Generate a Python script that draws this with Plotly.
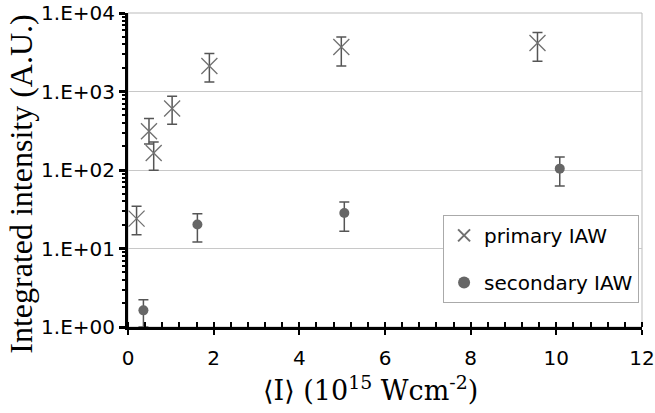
import plotly.graph_objects as go

# primary IAW
prim_x = [0.2, 0.49, 0.6, 1.03, 1.9, 4.98, 9.56]
prim_y = [24, 311, 165, 606, 2110, 3690, 4150]
prim_hi = [34.5, 452, 227, 868, 3040, 4950, 5630]
prim_lo = [15, 215, 99, 382, 1320, 2110, 2420]

# secondary IAW
sec_x = [0.36, 1.62, 5.05, 10.08]
sec_y = [1.63, 20.2, 28.3, 104]
sec_hi = [2.23, 27.8, 39, 146]
sec_lo = [1.0, 12.1, 16.6, 62.5]

y_tickvals = [1, 10, 100, 1000, 10000]
y_ticktext = ["1.E+00", "1.E+01", "1.E+02", "1.E+03", "1.E+04"]
x_tickvals = [0, 2, 4, 6, 8, 10, 12]

def plus(v, h):
    return [a - b for a, b in zip(h, v)]

def minus(v, l):
    return [b - a for a, b in zip(l, v)]

fig = go.Figure()
fig.add_trace(go.Scatter(
    x=prim_x, y=prim_y, mode="markers", name="primary IAW", legendgroup="p",
    marker=dict(symbol="x-thin", size=16, line=dict(color="#707070", width=1.3)),
    error_y=dict(type="data", symmetric=False, array=plus(prim_y, prim_hi),
                 arrayminus=minus(prim_y, prim_lo), color="#555555", thickness=1.5, width=5),
))
fig.add_trace(go.Scatter(
    x=sec_x, y=sec_y, mode="markers", name="secondary IAW", legendgroup="s",
    marker=dict(symbol="circle", size=10, color="#666666"),
    error_y=dict(type="data", symmetric=False, array=plus(sec_y, sec_hi),
                 arrayminus=minus(sec_y, sec_lo), color="#555555", thickness=1.5, width=5),
))

SANS = "DejaVu Sans"
SERIF = "Liberation Serif, Times New Roman"

fig.update_layout(
    width=655, height=413,
    margin=dict(l=128, r=13, t=13, b=86),
    paper_bgcolor="white", plot_bgcolor="white",
    font=dict(family=SANS, color="black"),
    showlegend=True,
    legend=dict(x=0.613, y=0.357, xanchor="left", yanchor="top",
                bgcolor="white", bordercolor="#aaaaaa", borderwidth=1,
                font=dict(size=20, family=SANS),
                itemsizing="constant", traceorder="grouped", tracegroupgap=18,
                itemwidth=30),
    shapes=[dict(type="rect", xref="paper", yref="paper", x0=0, x1=1, y0=0, y1=1,
                 line=dict(color="#bbbbbb", width=1), layer="below")],
    annotations=[
        dict(text="Integrated intensity (A.U.)", textangle=-90, showarrow=False,
             xref="paper", yref="paper", x=-0.207, y=0.455, xanchor="center", yanchor="middle",
             font=dict(family=SERIF, size=32, color="black")),
        dict(text="⟨I⟩ (10<sup>15</sup> Wcm<sup>-2</sup>)", showarrow=False,
             xref="paper", yref="paper", x=0.471, y=-0.195, xanchor="center", yanchor="middle",
             font=dict(family="DejaVu Serif", size=27, color="black")),
    ],
    xaxis2=dict(overlaying="x", anchor="y", side="bottom", range=[0, 12],
                tickvals=x_tickvals, ticks="inside", ticklen=5, tickwidth=2, tickcolor="black",
                showticklabels=False, showline=False, showgrid=False, zeroline=False),
)

fig.layout.xaxis.update(
    range=[0, 12], tickvals=x_tickvals, ticks="outside", ticklen=5, tickwidth=2,
    tickcolor="black", showline=True, linecolor="black", linewidth=3,
    showgrid=False, zeroline=False, tickfont=dict(size=20), automargin=False,
    ticklabelstandoff=6,
    minor=dict(ticks="inside", ticklen=5, tickwidth=2, tickcolor="black", dtick=0.4, showgrid=False),
)
fig.update_yaxes(
    type="log", range=[0, 4], tickvals=y_tickvals, ticktext=y_ticktext,
    ticks="outside", ticklen=6, tickwidth=3, tickcolor="black",
    showline=True, linecolor="black", linewidth=3,
    showgrid=True, gridcolor="#c8c8c8", gridwidth=1, zeroline=False,
    tickfont=dict(size=20), automargin=False,
    minor=dict(ticks="outside", ticklen=3, tickwidth=1.5, tickcolor="black",
               tickvals=[m * 10 ** e for e in range(4) for m in range(2, 10)], showgrid=False),
)

fig.write_html("out.html", config={"displayModeBar": False},
               post_script="document.body.style.margin='0';")
